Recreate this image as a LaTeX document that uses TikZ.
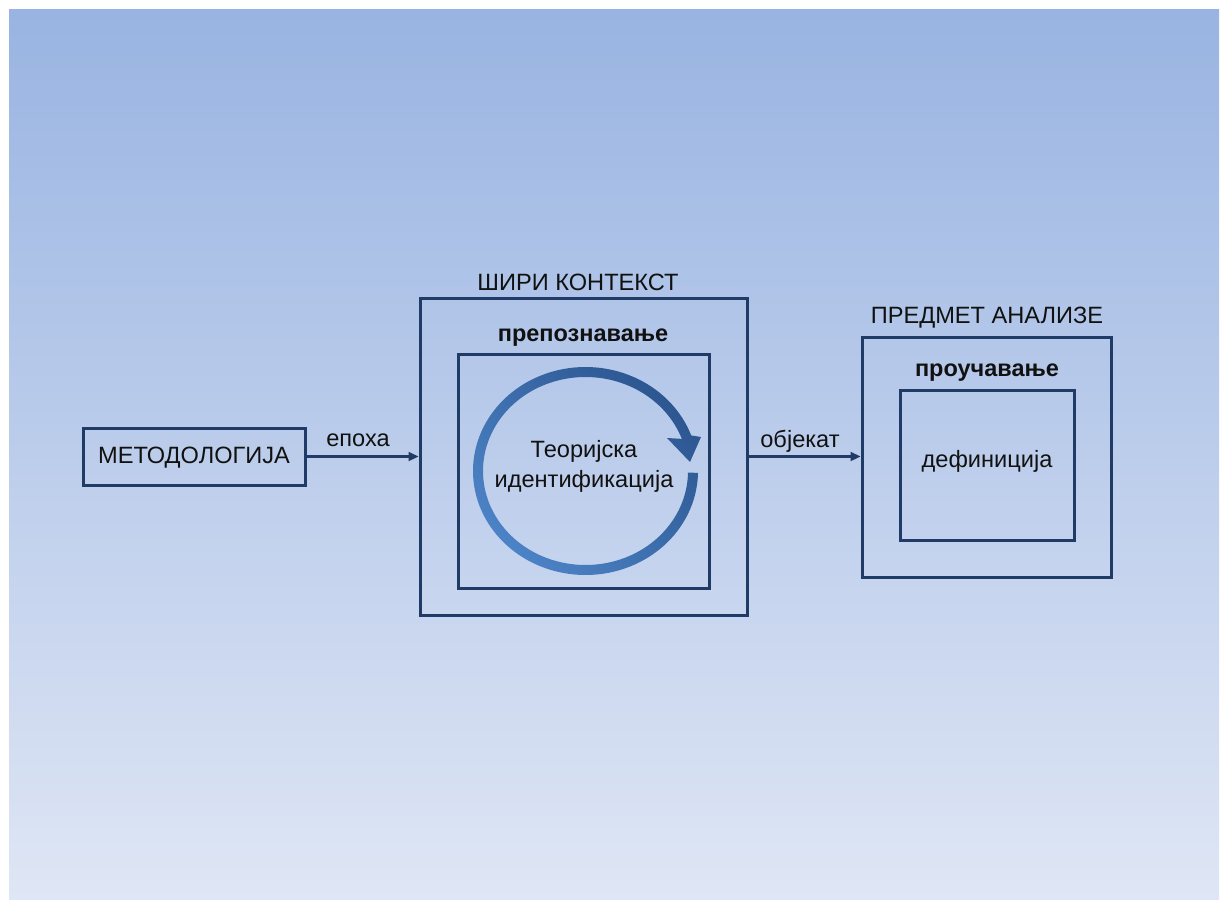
\documentclass[tikz,border=0pt]{standalone}
\usepackage{fontspec}
\setmainfont{Liberation Sans}
\usetikzlibrary{arrows.meta}
\definecolor{bgtop}{HTML}{99B4E2}
\definecolor{bgbot}{HTML}{DFE6F5}
\definecolor{navy}{HTML}{1F3B66}
\definecolor{ringlight}{HTML}{4C83C6}
\definecolor{ringdark}{HTML}{2C5690}
\definecolor{txt}{HTML}{111111}
\tikzset{
  box/.style={draw=navy, line width=3pt, rectangle, inner sep=0pt},
  conn/.style={draw=navy, line width=2.2pt, -{Triangle[length=10pt,width=9pt]}},
  lbl/.style={text=txt, inner sep=0pt, font=\fontsize{23.6}{28}\selectfont},
  blbl/.style={text=txt, inner sep=0pt, font=\fontsize{23.5}{28}\selectfont\bfseries},
}
\begin{document}
\begin{tikzpicture}[x=1pt,y=-1pt]
\useasboundingbox (0,0) rectangle (1220,899);
\shade[top color=bgtop, bottom color=bgbot] (9,10) rectangle (1219,899);

% boxes
\node[box, minimum width=222pt, minimum height=57pt] (metod) at (194,456.5) {};
\node[lbl] (metodt) at (194,458) {МЕТОДОЛОГИЈА};

\node[box, minimum width=327pt, minimum height=317pt] (ctx) at (583.5,456.5) {};
\node[lbl] (ctxt) at (578,282) {ШИРИ КОНТЕКСТ};
\node[box, minimum width=251pt, minimum height=234pt] (rec) at (583.5,471) {};
\node[blbl] (rect) at (583,338) {препознавање};

\node[box, minimum width=249pt, minimum height=240pt] (subj) at (986.5,457) {};
\node[lbl] (subjt) at (987,318) {ПРЕДМЕТ АНАЛИЗЕ};
\node[box, minimum width=174pt, minimum height=150pt] (def) at (987,465) {};
\node[blbl] (stut) at (987,373) {проучавање};
\node[lbl] (deft) at (987,461) {дефиниција};

% cycle ring with arrow head
\shade[left color=ringdark, right color=ringlight, shading angle=-45]
  plot[domain=-1:-340, samples=120, smooth] ({585.5+112.5*cos(\x)},{471-104*sin(\x)})
  -- (701,437) -- (690,462) -- (667,438)
  -- plot[domain=-340:-1, samples=120, smooth] ({585.5+102.5*cos(\x)},{471-94*sin(\x)})
  -- cycle;
\node[lbl, align=center, font=\fontsize{23.6}{30}\selectfont] (theo) at (584,466) {Теоријска\\идентификација};

% connectors
\draw[conn] (metod.east) -- (metod.east -| ctx.west);
\node[lbl] (epoha) at (358,440) {епоха};
\draw[conn] (ctx.east) -- (ctx.east -| subj.west);
\node[lbl] (obj) at (800,441) {објекат};
\end{tikzpicture}
\end{document}
